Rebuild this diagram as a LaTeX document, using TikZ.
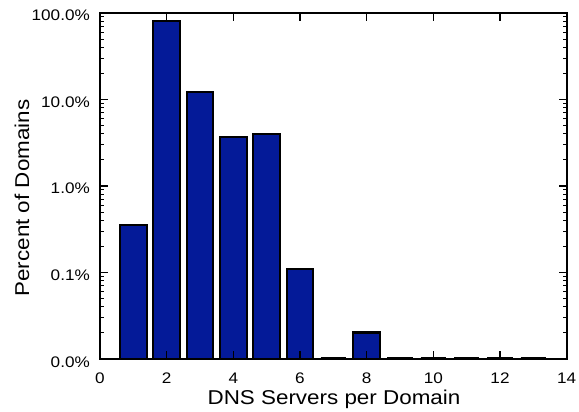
\documentclass[tikz,border=0pt]{standalone}
\usepackage{fontspec}
\setmainfont[FakeStretch=1.12]{Liberation Sans}
\definecolor{barblue}{RGB}{4,26,152}
\tikzset{
  bar/.style={fill=barblue,draw=black,line width=2.2pt},
  ticklab/.style={inner sep=0pt,font=\fontsize{15.3}{18}\selectfont},
  axlab/.style={inner sep=0pt,font=\fontsize{20}{24}\selectfont}
}
\begin{document}
\begin{tikzpicture}[x=33.33pt,y=86.5pt]
			\useasboundingbox (-3,-0.601) rectangle (14.37,4.150);
			% bars (percent of domains, log scale)
			\foreach \x/\v in {1/0.356,2/80.9,3/12.3,4/3.68,5/4.0,6/0.11,8/0.0201}{
				\draw [bar] (\x-0.4,0) rectangle (\x+0.4,{log10(\v)+2});
			}
			% ticks
			\foreach \d in {0,...,3}{
				\foreach \m in {2,...,9}{
					\draw [line width=1pt] (0,{\d+log10(\m)})--(0.12,{\d+log10(\m)});
					\draw [line width=1pt] (14,{\d+log10(\m)})--(13.88,{\d+log10(\m)});
				}
			}
			\foreach \d/\t in {0/0.0,1/0.1,2/1.0,3/10.0,4/100.0}{
				\draw [line width=1.2pt] (0,\d)--(0.24,\d);
				\draw [line width=1.2pt] (14,\d)--(13.76,\d);
				\node [ticklab,anchor=base east] (ylab\d) at (-0.3,\d-0.0925) {\t\%};
			}
			\foreach \x in {2,4,...,12}{
				\draw [line width=1.2pt] (\x,0)--(\x,0.0925);
				\draw [line width=1.2pt] (\x,4)--(\x,3.9075);
			}
			\foreach \x in {0,2,...,14}{
				\node [ticklab,anchor=base] (xlab\x) at (\x,-0.281) {\x};
			}
			\draw [line width=1.8pt] (0,0) rectangle (14,4);
			% empty bars
			\foreach \x in {7,9,10,11,12,13}{
				\draw [line width=3pt] (\x-0.38,0.005)--(\x+0.38,0.005);
			}
			% axis titles
			\node [axlab,anchor=base] (xtitle) at (7.02,-0.52) {DNS Servers per Domain};
			\node [axlab,rotate=90] (ytitle) at (-2.34,1.86) {Percent of Domains};
\end{tikzpicture}
\end{document}
